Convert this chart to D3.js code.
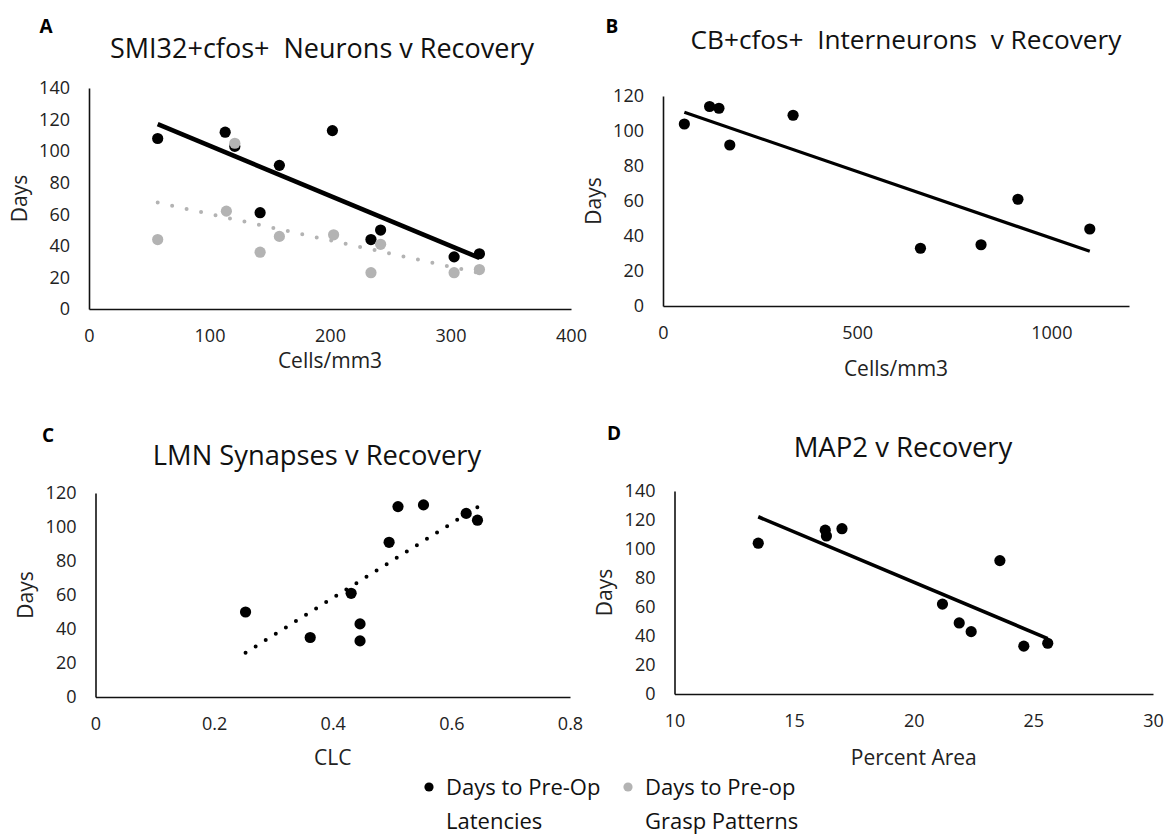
<!DOCTYPE html>
<html>
<head>
<meta charset="utf-8">
<script src="https://cdn.jsdelivr.net/npm/d3@7"></script>
<style>
  body { margin: 0; background: #fff; }
  svg { font-family: "Open Sans", sans-serif; }
  .tick text { font-size: 18px; fill: #222; }
</style>
</head>
<body>
<svg id="chart" width="1168" height="836"></svg>
<script>
// Panel A: SMI32+cfos+ neurons (cells/mm3) vs days
var cellsA = [57, 113, 121, 158, 202, 142, 234, 242, 303, 324];
var latencyA = [108, 112, 103, 91, 113, 61, 44, 50, 33, 35];
var graspCellsA = [57, 114, 121, 142, 158, 203, 234, 242, 303, 324];
var graspA = [44, 62, 105, 36, 46, 47, 23, 41, 23, 25];

// Panel B: CB+cfos+ interneurons
var cellsB = [55, 120, 144, 172, 335, 663, 819, 914, 1099];
var latencyB = [104, 114, 113, 92, 109, 33, 35, 61, 44];

// Panel C: LMN synapses (CLC)
var clcC = [0.253, 0.362, 0.431, 0.446, 0.446, 0.495, 0.510, 0.553, 0.625, 0.644];
var latencyC = [50, 35, 61, 43, 33, 91, 112, 113, 108, 104];

// Panel D: MAP2 percent area
var areaD = [13.5, 16.3, 16.35, 17.0, 21.2, 21.9, 22.4, 23.6, 24.6, 25.6];
var latencyD = [104, 113, 109, 114, 62, 49, 43, 92, 33, 35];

var legendLabels = [["Days to Pre-Op", "Latencies"], ["Days to Pre-op", "Grasp Patterns"]];

var BLACK = "#000", GREY = "#b3b3b3";

var svg = d3.select("#chart");

// least squares fit, returns the two end points of the trendline
function trend(xs, ys) {
  var mx = d3.mean(xs), my = d3.mean(ys);
  var sxy = d3.sum(xs, function(d, i) { return (d - mx) * (ys[i] - my); });
  var sxx = d3.sum(xs, function(d) { return (d - mx) * (d - mx); });
  var b = sxy / sxx, a = my - b * mx;
  var ext = d3.extent(xs);
  return ext.map(function(x) { return [x, a + b * x]; });
}

function panel(p) {
  var x = d3.scaleLinear().domain(p.xDomain).range(p.xRange);
  var y = d3.scaleLinear().domain(p.yDomain).range(p.yRange);
  var g = svg.append("g");

  g.append("g")
      .attr("transform", "translate(0," + p.yRange[0] + ")")
      .call(d3.axisBottom(x).tickValues(p.xTicks).tickSize(0).tickPadding(20).tickFormat(p.xFormat || d3.format("d")));
  g.append("g")
      .attr("transform", "translate(" + p.xRange[0] + ",0)")
      .call(d3.axisLeft(y).tickValues(d3.range(p.yDomain[0], p.yDomain[1] + 1, 20)).tickSize(0).tickPadding(19));
  g.selectAll(".domain").attr("stroke", "#111").attr("stroke-width", 1.6);
  g.selectAll(".tick text").attr("font-family", "Open Sans");

  // panel letter
  g.append("text")
      .attr("x", p.letterPos[0]).attr("y", p.letterPos[1])
      .attr("dy", "0.36em").attr("text-anchor", "middle")
      .style("font-size", "19px").style("font-weight", "bold")
      .text(p.letter);
  // title
  g.append("text")
      .attr("x", p.titlePos[0]).attr("y", p.titlePos[1])
      .attr("dy", "0.36em").attr("text-anchor", "middle")
      .style("font-size", p.titleSize + "px").style("fill", "#111")
      .attr("xml:space", "preserve")
      .text(p.title);
  // axis titles
  g.append("text")
      .attr("x", (p.xRange[0] + p.xRange[1]) / 2).attr("y", p.xTitleY)
      .attr("dy", "0.36em").attr("text-anchor", "middle")
      .style("font-size", "21px").style("fill", "#222")
      .text(p.xTitle);
  g.append("text")
      .attr("transform", "translate(" + (p.xRange[0] - 70) + "," + ((p.yRange[0] + p.yRange[1]) / 2) + ") rotate(-90)")
      .attr("dy", "0.36em").attr("text-anchor", "middle")
      .style("font-size", "21px").style("fill", "#222")
      .text("Days");

  var line = d3.line().x(function(d) { return x(d[0]); }).y(function(d) { return y(d[1]); });

  // points in series order (later series on top)
  p.series.forEach(function(s) {
    g.append("g").selectAll("circle")
      .data(s.x.map(function(d, i) { return [d, s.y[i]]; }))
      .enter().append("circle")
        .attr("cx", function(d) { return x(d[0]); })
        .attr("cy", function(d) { return y(d[1]); })
        .attr("r", 5.6)
        .attr("fill", s.color);
  });
  // trendlines drawn above the points, grey one last
  p.series.slice().reverse().forEach(function(s) {
    var path = g.append("path")
        .attr("d", line(trend(s.x, s.y)))
        .attr("fill", "none")
        .attr("stroke", s.color)
        .attr("stroke-width", s.width);
    if (s.dotted) {
      path.attr("stroke-linecap", "round").attr("stroke-dasharray", "0 " + s.gap);
    }
  });
}

panel({
  letter: "A", letterPos: [46, 26],
  title: "SMI32+cfos+  Neurons v Recovery", titlePos: [322, 48], titleSize: 27,
  xTitle: "Cells/mm3", xTitleY: 360,
  xDomain: [0, 400], xRange: [89, 571], xTicks: [0, 100, 200, 300, 400],
  yDomain: [0, 140], yRange: [309, 88],
  series: [
    {x: cellsA, y: latencyA, color: BLACK, width: 4.6},
    {x: graspCellsA, y: graspA, color: GREY, width: 4, dotted: true, gap: 14.8}
  ]
});

panel({
  letter: "B", letterPos: [612, 26],
  title: "CB+cfos+  Interneurons  v Recovery", titlePos: [906, 40], titleSize: 26.2,
  xTitle: "Cells/mm3", xTitleY: 368,
  xDomain: [0, 1200], xRange: [663, 1129], xTicks: [0, 500, 1000],
  yDomain: [0, 120], yRange: [306, 96],
  series: [
    {x: cellsB, y: latencyB, color: BLACK, width: 3.2}
  ]
});

panel({
  letter: "C", letterPos: [48, 435],
  title: "LMN Synapses v Recovery", titlePos: [317, 455], titleSize: 27.3,
  xTitle: "CLC", xTitleY: 757,
  xDomain: [0, 0.8], xRange: [95.5, 570], xTicks: [0, 0.2, 0.4, 0.6, 0.8],
  xFormat: function(d) { return d === 0 ? "0" : d3.format(".1f")(d); },
  yDomain: [0, 120], yRange: [697, 493],
  series: [
    {x: clcC, y: latencyC, color: BLACK, width: 4, dotted: true, gap: 11.9}
  ]
});

panel({
  letter: "D", letterPos: [614, 433],
  title: "MAP2 v Recovery", titlePos: [903, 447], titleSize: 27.5,
  xTitle: "Percent Area", xTitleY: 757,
  xDomain: [10, 30], xRange: [674.5, 1153], xTicks: [10, 15, 20, 25, 30],
  yDomain: [0, 140], yRange: [694, 491],
  series: [
    {x: areaD, y: latencyD, color: BLACK, width: 3.6}
  ]
});

// legend
var legend = svg.append("g").attr("transform", "translate(429,787)");
var legendColors = [BLACK, GREY];
var item = legend.selectAll("g.item").data(legendLabels).enter().append("g")
    .attr("class", "item")
    .attr("transform", function(d, i) { return "translate(" + (i * 199) + ",0)"; });
item.append("circle").attr("r", 4.6).attr("fill", function(d, i) { return legendColors[i]; });
item.append("text")
    .attr("x", 17).attr("y", 0)
    .style("font-size", "22px").style("fill", "#111")
    .selectAll("tspan").data(function(d) { return d; }).enter().append("tspan")
      .attr("x", 17).attr("dy", function(d, i) { return i === 0 ? "0.36em" : "34px"; })
      .text(function(d) { return d; });
</script>
</body>
</html>
